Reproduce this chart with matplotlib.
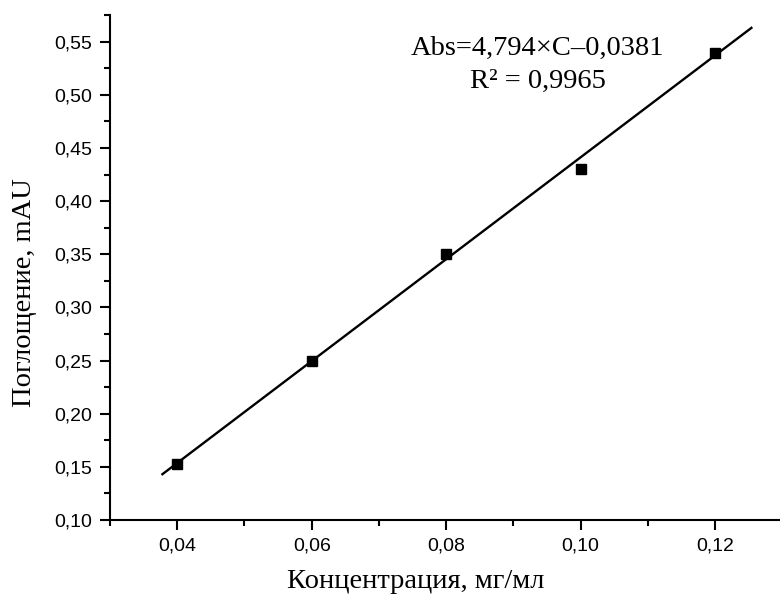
import matplotlib
matplotlib.use('Agg')
import matplotlib.pyplot as plt
from matplotlib.ticker import MultipleLocator, FuncFormatter
import numpy as np

# калибровочные точки
conc = [0.04, 0.06, 0.08, 0.10, 0.12]
absorb = [0.153, 0.250, 0.350, 0.430, 0.539]

# линейная аппроксимация Abs = k*C + b
k = 4.794
b = -0.0381
r2 = 0.9965
fit_range = [0.0378, 0.1254]

def comma(v, pos):
    return ('%.2f' % v).replace('.', ',')

fig = plt.figure(figsize=(7.8, 5.96), dpi=100)
ax = fig.add_axes([0.141, 0.1275, 0.862, 0.847])

xf = np.array(fit_range)
ax.plot(xf, k*xf + b, color='black', linewidth=1.7)
ax.plot(conc, absorb, 's', color='black', markersize=7)

ax.set_xlim(0.03, 0.13)
ax.set_ylim(0.10, 0.575)
ax.xaxis.set_major_locator(MultipleLocator(0.02))
ax.xaxis.set_minor_locator(MultipleLocator(0.01))
ax.yaxis.set_major_locator(MultipleLocator(0.05))
ax.yaxis.set_minor_locator(MultipleLocator(0.025))
ax.xaxis.set_major_formatter(FuncFormatter(comma))
ax.yaxis.set_major_formatter(FuncFormatter(comma))

# оси в стиле Origin: только левая и нижняя
ax.spines['top'].set_visible(False)
ax.spines['right'].set_visible(False)
ax.spines['left'].set_linewidth(1.5)
ax.spines['bottom'].set_linewidth(1.5)
ax.tick_params(which='major', direction='out', length=7.5, width=1.5,
               labelsize=14, pad=5)
ax.tick_params(which='minor', direction='out', length=4, width=1.5)
ax.set_xticks([0.04, 0.06, 0.08, 0.10, 0.12])
for lab in ax.get_xticklabels() + ax.get_yticklabels():
    lab.set_family('Liberation Sans')

ax.set_xlabel('Концентрация, мг/мл', family='Liberation Serif', fontsize=20.5)
ax.set_ylabel('Поглощение, mAU', family='Liberation Serif', fontsize=20.5)
ax.xaxis.set_label_coords(0.455, -0.098)
ax.yaxis.set_label_coords(-0.108, 0.451)

ax.text(0.0936, 0.538, 'Abs=%s×C–%s' % (str(k).replace('.', ','), str(-b).replace('.', ',')),
        family='Liberation Serif', fontsize=20.5, ha='center', va='baseline')
ax.text(0.0936, 0.507, 'R² = %s' % str(r2).replace('.', ','),
        family='Liberation Serif', fontsize=20.5, ha='center', va='baseline')

fig.savefig('out.png', dpi=100)
